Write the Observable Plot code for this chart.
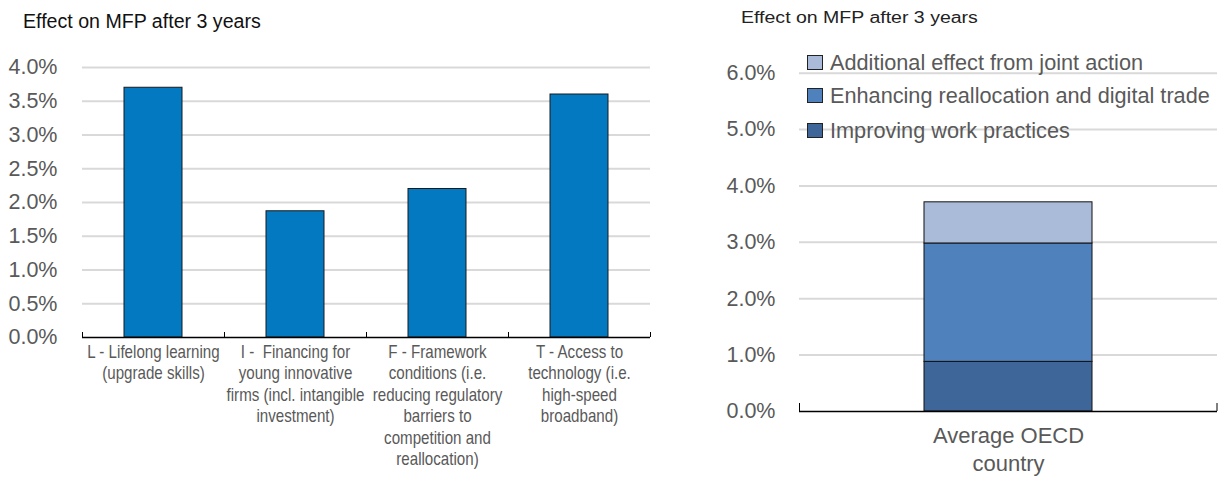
<!DOCTYPE html>
<html><head><meta charset="utf-8">
<script src="https://cdn.jsdelivr.net/npm/d3@7"></script>
<script src="https://cdn.jsdelivr.net/npm/@observablehq/plot@0.6"></script>
<style>
body{margin:0;background:#fff;width:1218px;height:479px;overflow:hidden;position:relative;font-family:"Liberation Sans",Arial,sans-serif}
.abs{position:absolute}
#legend div{position:absolute;left:0;white-space:nowrap;font-size:21.7px;color:#595959;line-height:1}
#legend span.sw{position:absolute;left:0;width:14px;height:13px;border:1px solid #222}
#legend span.tx{position:absolute;left:23px;top:-3px}
</style></head><body>
<div id="t1" class="abs" style="left:23px;top:10px;font-size:19.6px;color:#111;white-space:nowrap">Effect on MFP after 3 years</div>
<div id="left" class="abs" style="left:0;top:0;width:660px;height:479px"></div>
<div id="right" class="abs" style="left:700px;top:0;width:518px;height:479px"></div>
<div id="t2" class="abs" style="left:741px;top:9px;font-size:16px;color:#222;white-space:nowrap;transform:scaleX(1.22);transform-origin:left top">Effect on MFP after 3 years</div>
<div id="legend" class="abs" style="left:807px;top:0"></div>
<script>
// ---- Left panel data ----
const categories = ["L", "I", "F", "T"];
const categoryLabels = [
  "L - Lifelong learning\n(upgrade skills)",
  "I -  Financing for\nyoung innovative\nfirms (incl. intangible\ninvestment)",
  "F - Framework\nconditions (i.e.\nreducing regulatory\nbarriers to\ncompetition and\nreallocation)",
  "T - Access to\ntechnology (i.e.\nhigh-speed\nbroadband)"
];
const values = [3.70, 1.87, 2.20, 3.60];
const leftTicks = [0, 0.5, 1.0, 1.5, 2.0, 2.5, 3.0, 3.5, 4.0];

// ---- Right panel data ----
const stackCategory = ["Average OECD\ncountry"];
const series = ["Improving work practices", "Enhancing reallocation and digital trade", "Additional effect from joint action"];
const seriesValues = [0.88, 2.10, 0.73];
const seriesColors = ["#3F6699", "#4F81BD", "#AABBD9"];
const rightTicks = [0, 1, 2, 3, 4, 5, 6];

const fmt = d => d.toFixed(1) + "%";

// ---- Left chart ----
const leftData = categories.map((c, i) => ({cat: c, label: categoryLabels[i], value: values[i]}));
const W1 = 660, H1 = 479, mL1 = 82, mR1 = 10, mT1 = 67, mB1 = 142;
const step1 = (W1 - mL1 - mR1) / categories.length;
const ph1 = H1 - mT1 - mB1;
const left = Plot.plot({
  width: W1, height: H1, marginLeft: mL1, marginRight: mR1, marginTop: mT1, marginBottom: mB1,
  style: {fontFamily: "'Liberation Sans',Arial,sans-serif", background: "transparent", overflow: "visible"},
  x: {domain: categories, paddingInner: 0.59, paddingOuter: 0.295, axis: null},
  y: {domain: [0, 4], axis: null},
  marks: [
    Plot.ruleY(leftTicks.filter(d => d > 0), {stroke: "#D9D9D9", strokeWidth: 2}),
    Plot.barY(leftData, {x: "cat", y: "value", fill: "#0279C0", stroke: "#1a1a1a", strokeWidth: 1}),
    Plot.ruleY([0], {stroke: "#000", strokeWidth: 1.3}),
    Plot.ruleX(categories, {x: d => d, dx: -step1 / 2, insetTop: ph1 - 5, stroke: "#000"}),
    Plot.ruleX(categories.slice(-1), {x: d => d, dx: step1 / 2, insetTop: ph1 - 5, stroke: "#000"}),
    Plot.axisY({ticks: leftTicks, tickFormat: fmt, tickSize: 0, tickPadding: 25, fontSize: 21.5, fill: "#595959", label: null}),
    Plot.text(leftData, {x: "cat", y: 0, text: "label", dy: 5.5, lineAnchor: "top", lineHeight: 1.22, fontSize: 17.5, fill: "#595959"})
  ]
});
document.getElementById("left").appendChild(left);
// condensed look (narrow font is not installed): squeeze the category labels horizontally
left.querySelectorAll('g[aria-label="text"] text').forEach(t => {
  const tr = t.getAttribute("transform");
  if (tr) t.setAttribute("transform", tr + " scale(0.865,1)");
  else {
    const x = +t.getAttribute("x") || 0;
    t.setAttribute("transform", `translate(${x},0) scale(0.865,1) translate(${-x},0)`);
  }
});

// ---- Right chart ----
const stackData = series.map((s, i) => ({cat: stackCategory[0], series: s, value: seriesValues[i]}));
const W2 = 518, H2 = 479, mL2 = 99, mR2 = 1, mT2 = 72.7, mB2 = 68;
const step2 = (W2 - mL2 - mR2) / stackCategory.length;
const ph2 = H2 - mT2 - mB2;
const right = Plot.plot({
  width: W2, height: H2, marginLeft: mL2, marginRight: mR2, marginTop: mT2, marginBottom: mB2,
  style: {fontFamily: "'Liberation Sans',Arial,sans-serif", background: "transparent", overflow: "visible"},
  x: {domain: stackCategory, paddingInner: 0.598, paddingOuter: 0.299, axis: null},
  y: {domain: [0, 6], axis: null},
  color: {domain: series, range: seriesColors},
  marks: [
    Plot.ruleY(rightTicks.filter(d => d > 0), {stroke: "#D9D9D9", strokeWidth: 2}),
    Plot.barY(stackData, {x: "cat", y: "value", fill: "series", stroke: "#111", strokeWidth: 1}),
    Plot.ruleY([0], {stroke: "#000", strokeWidth: 1.3}),
    Plot.ruleX(stackCategory, {x: d => d, dx: -step2 / 2, insetTop: ph2 - 8, stroke: "#000"}),
    Plot.ruleX(stackCategory, {x: d => d, dx: step2 / 2 - 0.5, insetTop: ph2 - 8, stroke: "#000"}),
    Plot.axisY({ticks: rightTicks, tickFormat: fmt, tickSize: 0, tickPadding: 24, fontSize: 21.5, fill: "#595959", label: null}),
    Plot.text(stackCategory, {x: d => d, y: 0, text: d => d, dy: 12, lineAnchor: "top", lineHeight: 1.27, fontSize: 22, fill: "#595959"})
  ]
});
document.getElementById("right").appendChild(right);

// ---- Legend (top to bottom: reverse of stacking) ----
const legend = document.getElementById("legend");
const rowTops = [55, 88, 123];
series.slice().reverse().forEach((s, i) => {
  const idx = series.indexOf(s);
  const row = document.createElement("div");
  row.style.top = rowTops[i] + "px";
  row.innerHTML = `<span class="sw" style="background:${seriesColors[idx]}"></span><span class="tx">${s}</span>`;
  legend.appendChild(row);
});
</script>
</body></html>
